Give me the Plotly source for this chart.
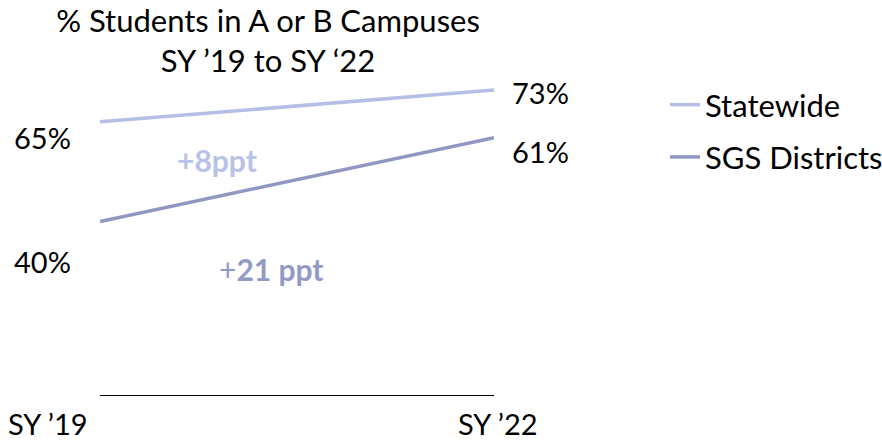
import plotly.graph_objects as go

# School years on the horizontal axis
years = ["SY \u201919", "SY \u201922"]

# Share of students in A or B campuses (%)
series_names = ["Statewide", "SGS Districts"]
statewide = [65, 73]
sgs_districts = [40, 61]

# Change labels between the two years
change_labels = ["+8ppt", "+<b>21 ppt</b>"]

colors = ["#b5bee4", "#8f97c2"]
text_colors = ["#b8c1e8", "#9199c5"]
FONT = "Lato, Carlito, Calibri, sans-serif"

fig = go.Figure()
x_pos = [0, 1]
for name, vals, col in zip(series_names, [statewide, sgs_districts], colors):
    fig.add_trace(go.Scatter(
        x=x_pos, y=vals, mode="lines", name=name, legendgroup=name,
        line=dict(color=col, width=3.5),
        hoverinfo="skip",
    ))

ann = []


def label(x, y, text, size, color="#000000", yref="paper", yshift=0):
    return dict(x=x, y=y, xref="paper", yref=yref, text=text, showarrow=False,
                xanchor="center", yanchor="middle", yshift=yshift,
                font=dict(size=size, color=color))


# Start-year value labels, left of the plot
for vals, shift in [(statewide, -16), (sgs_districts, -40)]:
    ann.append(label(-0.145, vals[0], f"{vals[0]}%", 29, yref="y", yshift=shift))
# End-year value labels, right of the plot
for vals, shift in [(statewide, -3), (sgs_districts, -14)]:
    ann.append(label(1.119, vals[1], f"{vals[1]}%", 29, yref="y", yshift=shift))

# Change annotations
ann.append(label(0.297, 0.746, f"<b>{change_labels[0]}</b>", 30, text_colors[0]))
ann.append(label(0.4365, 0.40, change_labels[1], 30, text_colors[1]))

# Year labels under the axis ends
for xv, lab in zip([-0.132, 1.010], years):
    ann.append(label(xv, -0.092, lab, 29))

fig.update_layout(
    width=882, height=443,
    margin=dict(l=100, r=388, t=80, b=48, autoexpand=False),
    paper_bgcolor="white", plot_bgcolor="white",
    font=dict(family=FONT, color="#000000"),
    title=dict(text="% Students in A or B Campuses<br>SY \u201919 to SY \u201822",
               x=268 / 882, xref="container", xanchor="center",
               y=0.928, yref="container", yanchor="top",
               font=dict(size=31, family=FONT, color="#000000")),
    xaxis=dict(range=[0, 1], showgrid=False, zeroline=False, showticklabels=False,
               showline=True, linecolor="#000000", linewidth=1, ticks=""),
    yaxis=dict(range=[-3.55, 75.5], showgrid=False, zeroline=False, showticklabels=False,
               showline=False, ticks=""),
    legend=dict(x=665 / 882, y=0.824, xref="container", yref="container",
                xanchor="left", yanchor="top",
                font=dict(size=31, family=FONT, color="#000000"),
                tracegroupgap=9, bgcolor="rgba(0,0,0,0)"),
    annotations=ann,
    showlegend=True,
)

fig.write_html("out.html")
